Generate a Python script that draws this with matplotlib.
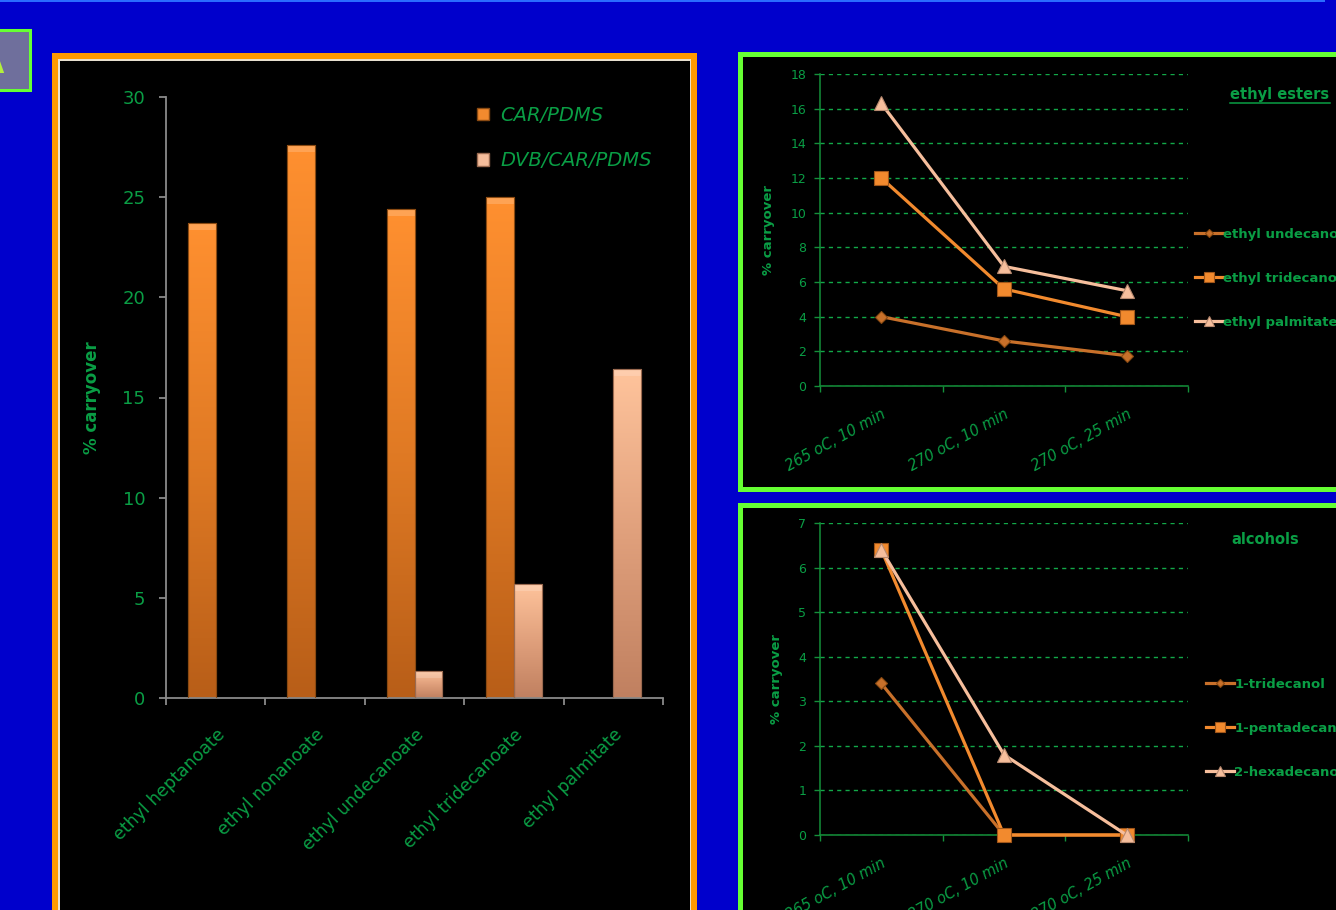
import numpy as np
import matplotlib
matplotlib.use("Agg")
import matplotlib.pyplot as plt
from matplotlib.patches import Rectangle, Patch
from matplotlib.lines import Line2D
from matplotlib.colors import LinearSegmentedColormap

# ---------------- data ----------------
fibre_compounds = ["ethyl heptanoate", "ethyl nonanoate", "ethyl undecanoate",
                   "ethyl tridecanoate", "ethyl palmitate"]
car_pdms = [23.7, 27.6, 24.4, 25.0, 0.0]
dvb_car_pdms = [0.0, 0.0, 1.35, 5.7, 16.4]

conditions = ["265 oC, 10 min", "270 oC, 10 min", "270 oC, 25 min"]
ester_names = ["ethyl undecanoate", "ethyl tridecanoate", "ethyl palmitate"]
ester_undecanoate = [4.0, 2.6, 1.75]
ester_tridecanoate = [12.0, 5.6, 4.0]
ester_palmitate = [16.3, 6.9, 5.5]

alcohol_names = ["1-tridecanol", "1-pentadecanol", "2-hexadecanol"]
alc_tridecanol = [3.4, 0.0, 0.0]
alc_pentadecanol = [6.4, 0.0, 0.0]
alc_hexadecanol = [6.4, 1.8, 0.0]

# ---------------- style ----------------
W, H = 1336, 910
BLUE = "#0000CC"
GREEN_TXT = "#0A9E45"
GREEN_AX = "#14903A"
BORDER_GREEN = "#66FF33"
ORANGE_BORDER = "#FF9900"
C_DARK = "#C8702A"
C_MID = "#F28A2E"
C_LIGHT = "#F6BE9C"
FONT = "DejaVu Sans"

fig = plt.figure(figsize=(W / 100, H / 100), dpi=100)
fig.patch.set_facecolor(BLUE)


def rect_px(x0, y0, x1, y1, **kw):
    """Rectangle given in pixel coordinates (origin top-left), drawn behind the axes."""
    r = Rectangle((x0 / W, 1 - y1 / H), (x1 - x0) / W, (y1 - y0) / H,
                  transform=fig.transFigure, zorder=-10, **kw)
    fig.patches.append(r)
    return r


def ax_px(x0, y0, x1, y1):
    return fig.add_axes([x0 / W, 1 - y1 / H, (x1 - x0) / W, (y1 - y0) / H])


# slide decorations
rect_px(0, 0, 1325, 2, facecolor="#2A6BFF", edgecolor="none")
rect_px(-5, 30, 30, 90, facecolor="#6F6F9C", edgecolor=BORDER_GREEN, lw=2.2)
fig.text(4 / W, 1 - 66 / H, "A", color="#B4F03C", fontsize=17, fontweight="bold",
         ha="right", va="center", family=FONT)

# left panel frame
rect_px(52, 53, 697, 930, facecolor=ORANGE_BORDER, edgecolor="none")
rect_px(58, 59, 691, 930, facecolor="#E8E0D0", edgecolor="none")
rect_px(60, 61, 690, 930, facecolor="black", edgecolor="none")

# right panel frames
rect_px(738, 52, 1345, 492, facecolor=BORDER_GREEN, edgecolor="none")
rect_px(743, 57, 1345, 487, facecolor="black", edgecolor="none")
rect_px(738, 503, 1345, 930, facecolor=BORDER_GREEN, edgecolor="none")
rect_px(743, 508, 1345, 930, facecolor="black", edgecolor="none")

# ---------------- left: grouped bars ----------------
ax = ax_px(166, 97, 663, 698)
ax.set_facecolor("none")
x = np.arange(len(fibre_compounds))
bw = 0.28
cmap_car = LinearSegmentedColormap.from_list("car", ["#B85E18", "#E07A24", "#FF9030"])
cmap_dvb = LinearSegmentedColormap.from_list("dvb", ["#C08060", "#E0A07C", "#FFC49C"])
bars_car = ax.bar(x - bw / 2, car_pdms, bw, facecolor=C_MID, edgecolor="#8A4A12", lw=0.8, zorder=2)
bars_dvb = ax.bar(x + bw / 2, dvb_car_pdms, bw, facecolor=C_LIGHT, edgecolor="#9A6A50", lw=0.8, zorder=2)
grad = np.linspace(0, 1, 256).reshape(-1, 1)
for bars, cm in ((bars_car, cmap_car), (bars_dvb, cmap_dvb)):
    for b in bars:
        h = b.get_height()
        if h <= 0:
            b.set_visible(False)
            continue
        x0 = b.get_x()
        im = ax.imshow(grad, extent=[x0, x0 + b.get_width(), 0, h], origin="lower",
                       aspect="auto", cmap=cm, zorder=2.5, interpolation="bilinear")
        im.set_clip_path(b)
        # bevelled cap
        ax.add_patch(Rectangle((x0, h - 0.35), b.get_width(), 0.35,
                               facecolor="white", alpha=0.18, edgecolor="none", zorder=2.6))
        ax.add_patch(Rectangle((x0, 0), b.get_width(), h, facecolor="none",
                               edgecolor=b.get_edgecolor(), lw=0.8, zorder=2.7))
ax.set_xlim(-0.5, len(fibre_compounds) - 0.5)
ax.set_ylim(0, 30)
ax.set_yticks(range(0, 31, 5))
for s in ("top", "right"):
    ax.spines[s].set_visible(False)
for s in ("left", "bottom"):
    ax.spines[s].set_color("#8A8A8A")
    ax.spines[s].set_linewidth(1.3)
ax.tick_params(axis="y", colors="#8A8A8A", length=5, width=1.3, direction="out",
               labelcolor=GREEN_TXT, labelsize=13, pad=10)
ax.set_xticks(x)
ax.set_xticklabels(fibre_compounds, rotation=45, ha="right", rotation_mode="anchor",
                   color=GREEN_TXT, fontsize=12.5, family=FONT)
ax.tick_params(axis="x", length=0, pad=20)
ax.set_xticks(np.arange(-0.5, len(fibre_compounds)), minor=True)
ax.tick_params(axis="x", which="minor", length=5, width=1.3, color="#8A8A8A", direction="out")
for t in ax.get_yticklabels():
    t.set_family(FONT)
ax.set_ylabel("% carryover", color=GREEN_TXT, fontsize=12, fontweight="bold", family=FONT,
              labelpad=15)
leg_handles = [Patch(facecolor=C_MID, edgecolor="#8A4A12"),
               Patch(facecolor=C_LIGHT, edgecolor="#9A6A50")]
leg = ax.legend(leg_handles, ["CAR/PDMS", "DVB/CAR/PDMS"], loc="upper left",
                bbox_to_anchor=(477 / W, 1 - 106 / H), bbox_transform=fig.transFigure,
                frameon=False, handlelength=0.6, handleheight=0.6, handletextpad=0.6,
                labelspacing=1.35, borderpad=0, borderaxespad=0,
                prop={"family": FONT, "style": "italic", "size": 14})
for t in leg.get_texts():
    t.set_color(GREEN_TXT)


# ---------------- right: line charts ----------------
def line_panel(box, ymax, series, names, title, title_xy, leg_xy, underline):
    a = ax_px(*box)
    a.set_facecolor("none")
    xs = np.arange(len(conditions))
    styles = [(C_DARK, "D", 6.5, "#8A4A12"), (C_MID, "s", 9.5, "#A0561A"),
              (C_LIGHT, "^", 10.5, "#B88A70")]
    for vals, name, (c, m, ms, mec) in zip(series, names, styles):
        a.plot(xs, vals, color=c, lw=2.3, marker=m, markersize=ms, markerfacecolor=c,
               markeredgecolor=mec, markeredgewidth=0.8, label=name, zorder=3,
               clip_on=False)
    a.set_xlim(-0.5, len(conditions) - 0.5)
    a.set_ylim(0, ymax)
    step = 2 if ymax > 10 else 1
    a.set_yticks(np.arange(0, ymax + 0.1, step))
    a.yaxis.grid(True, color="#12A848", lw=1.0, linestyle=(0, (3, 3)))
    a.set_axisbelow(True)
    for s in ("top", "right"):
        a.spines[s].set_visible(False)
    for s in ("left", "bottom"):
        a.spines[s].set_color(GREEN_AX)
        a.spines[s].set_linewidth(1.1)
    a.tick_params(axis="y", colors=GREEN_AX, length=4, width=1, labelcolor=GREEN_TXT,
                  labelsize=9, pad=6)
    a.set_xticks(xs)
    a.set_xticklabels(conditions, rotation=29, ha="right", rotation_mode="anchor",
                      color=GREEN_TXT, fontsize=10.5, style="italic", family=FONT)
    a.tick_params(axis="x", length=0, pad=15)
    a.set_xticks(np.arange(-0.5, len(conditions)), minor=True)
    a.tick_params(axis="x", which="minor", length=4, width=1, color=GREEN_AX)
    a.set_ylabel("% carryover", color=GREEN_TXT, fontsize=9.5, fontweight="bold",
                 family=FONT, labelpad=11)
    for t in a.get_yticklabels():
        t.set_family(FONT)
    lg = a.legend(loc="upper left", bbox_to_anchor=(leg_xy[0] / W, 1 - leg_xy[1] / H),
                  bbox_transform=fig.transFigure, frameon=False, handlelength=2.1,
                  handletextpad=0.05, labelspacing=2.35, borderpad=0, borderaxespad=0,
                  prop={"family": FONT, "weight": "bold", "size": 9.5})
    for t in lg.get_texts():
        t.set_color(GREEN_TXT)
    for h in lg.legend_handles:
        h.set_markersize(h.get_markersize() * 0.7)
    tt = fig.text(title_xy[0] / W, 1 - title_xy[1] / H, title, color=GREEN_TXT,
                  fontsize=10.5, fontweight="bold", ha="center", va="center", family=FONT)
    if underline:
        r = fig.canvas.get_renderer()
        bb = tt.get_window_extent(r).transformed(fig.transFigure.inverted())
        fig.add_artist(Line2D([bb.x0, bb.x1], [bb.y0 - 1.5 / H, bb.y0 - 1.5 / H],
                              transform=fig.transFigure, color=GREEN_TXT, lw=1.1))
    return a


line_panel((820, 74, 1188, 386), 18,
           [ester_undecanoate, ester_tridecanoate, ester_palmitate], ester_names,
           "ethyl esters", (1280, 94), (1195, 228), True)
line_panel((820, 523, 1188, 835), 7,
           [alc_tridecanol, alc_pentadecanol, alc_hexadecanol], alcohol_names,
           "alcohols", (1265, 540), (1206, 678), False)

fig.savefig("out.png", dpi=100, facecolor=fig.get_facecolor())
